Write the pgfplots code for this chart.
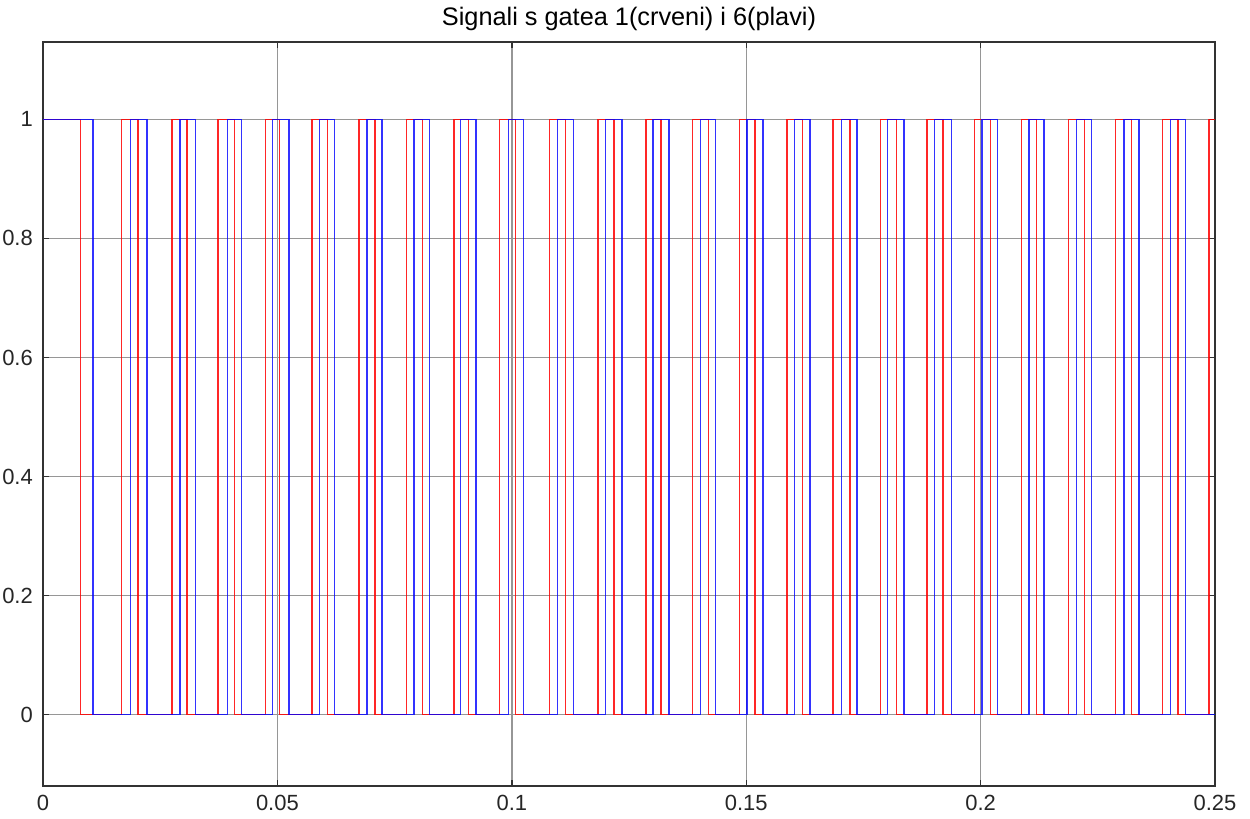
\documentclass[border=0pt]{standalone}
\usepackage{pgfplots}
\pgfplotsset{compat=1.18}
\usepackage{fontspec}
\setmainfont{Liberation Sans}
\usetikzlibrary{calc}
\definecolor{gridgray}{RGB}{150,150,150}
\definecolor{framegray}{RGB}{50,50,50}
\begin{document}
\begin{tikzpicture}
\begin{axis}[
  scale only axis,
  width=23.44cm, height=14.88cm,
  xmin=0, xmax=0.25, ymin=-0.12, ymax=1.13,
  xtick={0,0.05,0.1,0.15,0.2,0.25},
  ytick={0,0.2,0.4,0.6,0.8,1},
  xticklabels={0,0.05,0.1,0.15,0.2,0.25},
  yticklabels={0,0.2,0.4,0.6,0.8,1},
  grid=major,
  major grid style={draw=gridgray, line width=0.8pt},
  axis line style={draw=framegray, line width=0.9pt},
  tick style={draw=framegray, line width=0.8pt},
  major tick length=0.12cm,
  tick align=inside,
  xtick pos=both, ytick pos=both,
  ticklabel style={font=\fontsize{12.5}{14}\selectfont, text=black!85},
  xticklabel style={yshift=-0.05cm},
  yticklabel style={xshift=-0.08cm},
  /pgf/number format/assume math mode=true,
  title={Signali s gatea 1(crveni) i 6(plavi)},
  title style={font=\fontsize{14.4}{17}\selectfont, yshift=-0.12cm},
]
\addplot[const plot, red, line width=0.8pt, opacity=0.85] coordinates {
(0,1) (0.0080,0) (0.0167,1) (0.0203,0) (0.0275,1) (0.0307,0) (0.0373,1) (0.0409,0)
(0.0474,1) (0.0505,0) (0.0574,1) (0.0607,0) (0.0674,1) (0.0708,0) (0.0775,1) (0.0809,0)
(0.0877,1) (0.0908,0) (0.0974,1) (0.1008,0) (0.1081,1) (0.1114,0) (0.1184,1) (0.1218,0)
(0.1286,1) (0.1318,0) (0.1385,1) (0.1419,0) (0.1486,1) (0.1519,0) (0.1587,1) (0.1620,0)
(0.1685,1) (0.1721,0) (0.1786,1) (0.1820,0) (0.1886,1) (0.1920,0) (0.1987,1) (0.2021,0)
(0.2087,1) (0.2119,0) (0.2188,1) (0.2221,0) (0.2288,1) (0.2322,0) (0.2388,1) (0.2421,0)
(0.2487,1) (0.25,1)
};
\addplot[const plot, blue, line width=0.8pt, opacity=0.8] coordinates {
(0,1) (0.0107,0) (0.0187,1) (0.0222,0) (0.0292,1) (0.0325,0) (0.0393,1) (0.0423,0)
(0.0489,1) (0.0525,0) (0.0590,1) (0.0622,0) (0.0691,1) (0.0723,0) (0.0791,1) (0.0825,0)
(0.0891,1) (0.0924,0) (0.0993,1) (0.1025,0) (0.1097,1) (0.1132,0) (0.1200,1) (0.1235,0)
(0.1301,1) (0.1335,0) (0.1402,1) (0.1435,0) (0.1502,1) (0.1536,0) (0.1603,1) (0.1636,0)
(0.1703,1) (0.1736,0) (0.1802,1) (0.1837,0) (0.1902,1) (0.1938,0) (0.2003,1) (0.2036,0)
(0.2103,1) (0.2135,0) (0.2204,1) (0.2236,0) (0.2306,1) (0.2338,0) (0.2405,1) (0.2437,0)
(0.25,0)
};
\end{axis}
\pgfresetboundingbox
\path ($(current axis.south west)+(-0.86cm,-0.64cm)$) rectangle ($(current axis.north east)+(0.7cm,0.84cm)$);
\end{tikzpicture}
\end{document}
